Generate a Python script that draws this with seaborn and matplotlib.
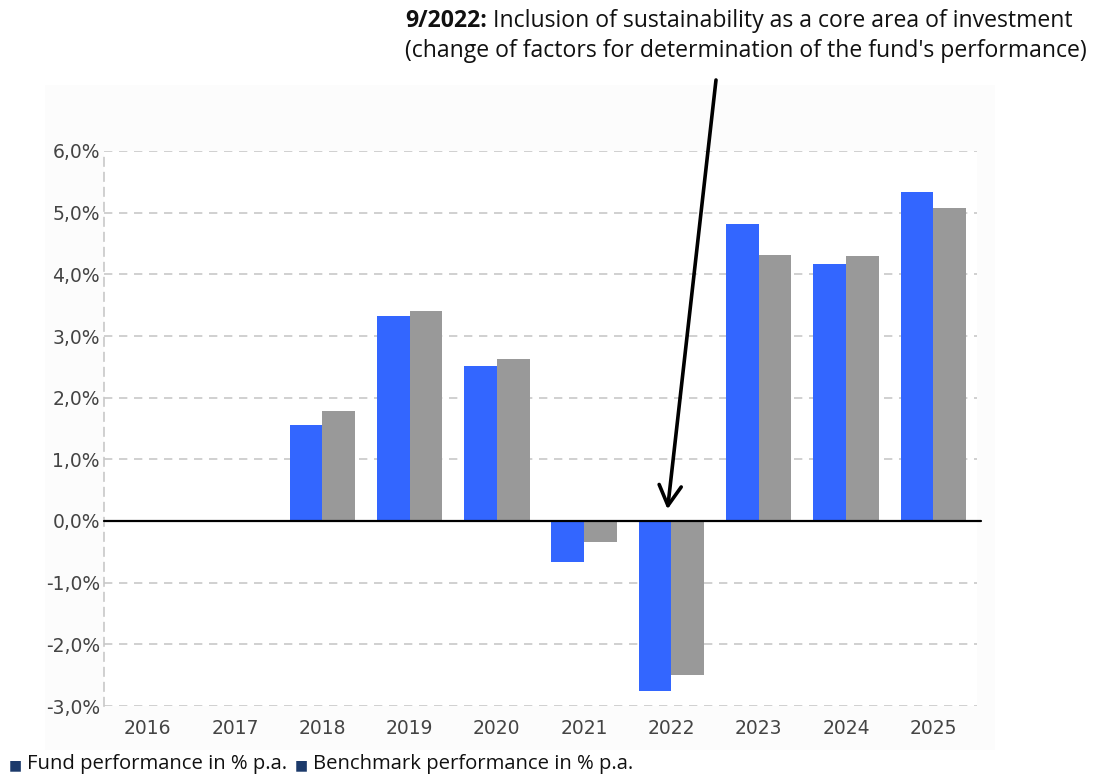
import matplotlib
matplotlib.use("Agg")
import matplotlib.pyplot as plt
from matplotlib.patches import Rectangle
from matplotlib.ticker import FuncFormatter
import seaborn as sns
import pandas as pd
import numpy as np

years = ["2016", "2017", "2018", "2019", "2020", "2021", "2022", "2023", "2024", "2025"]
fund = [np.nan, np.nan, 1.56, 3.32, 2.51, -0.67, -2.75, 4.81, 4.16, 5.33]
benchmark = [np.nan, np.nan, 1.79, 3.41, 2.63, -0.34, -2.49, 4.32, 4.29, 5.07]
series_names = ["Fund performance in % p.a.", "Benchmark performance in % p.a."]
y_ticks = [-3, -2, -1, 0, 1, 2, 3, 4, 5, 6]
annotation_bold = "9/2022:"
annotation_line1 = " Inclusion of sustainability as a core area of investment"
annotation_line2 = "(change of factors for determination of the fund's performance)"

df = pd.DataFrame({
    "year": years * 2,
    "value": fund + benchmark,
    "series": [series_names[0]] * len(years) + [series_names[1]] * len(years),
}).dropna()

sns.set_style("white")
plt.rcParams["font.family"] = ["DejaVu Sans"]

W, H = 1100, 778
fig = plt.figure(figsize=(W / 100, H / 100), dpi=100)

# faint panel background
fig.patches.append(Rectangle((45 / W, 1 - 750 / H), 950 / W, 665 / H,
                             transform=fig.transFigure, facecolor="#fcfcfc",
                             edgecolor="none", zorder=-10))

ax = fig.add_axes([104 / W, 1 - 706 / H, 873 / W, 555 / H])
ax.set_facecolor("white")

sns.barplot(data=df, x="year", y="value", hue="series", order=years,
            hue_order=series_names, palette=["#3366ff", "#999999"],
            width=0.75, linewidth=0, ax=ax, legend=False, errorbar=None,
            saturation=1)

ax.set_xlim(-0.5, len(years) - 0.5)
ax.set_ylim(-3, 6)
ax.set_yticks(y_ticks)
ax.yaxis.set_major_formatter(FuncFormatter(lambda v, p: f"{v:.1f}%".replace(".", ",")))
ax.set_xlabel("")
ax.set_ylabel("")

for s in ["top", "right", "bottom"]:
    ax.spines[s].set_visible(False)
ax.spines["left"].set_color("#c8c8c8")
ax.spines["left"].set_linestyle((0, (5, 4)))
ax.spines["left"].set_linewidth(1.2)

for t in y_ticks:
    if t != 0:
        ax.axhline(t, color="#c8c8c8", lw=1.2, ls=(0, (5, 4)), zorder=0)
ax.axhline(0, xmin=0, xmax=1.005, color="black", lw=1.6, zorder=5, clip_on=False)

ax.tick_params(axis="both", length=0, labelsize=13.5, labelcolor="#444444")
ax.tick_params(axis="y", pad=3)
ax.tick_params(axis="x", pad=9)

txt_font = ["Open Sans", "DejaVu Sans"]

# annotation
tb = fig.text(405 / W, 1 - 21 / H, annotation_bold, fontsize=16.6, fontweight="bold",
              family=txt_font, va="center", ha="left", color="#111111")
fig.canvas.draw()
bb = tb.get_window_extent()
fig.text(bb.x1 / W, 1 - 21 / H, annotation_line1, fontsize=16.6,
         family=txt_font, va="center", ha="left", color="#111111")
fig.text(405 / W, 1 - 51 / H, annotation_line2, fontsize=16.6,
         family=txt_font, va="center", ha="left", color="#111111")

ax.annotate("", xy=(5.955, 0.19), xycoords="data",
            xytext=(716, H - 80), textcoords="figure pixels",
            arrowprops=dict(arrowstyle="->,head_length=0.72,head_width=0.4",
                            lw=2.6, color="black", mutation_scale=20,
                            shrinkA=0, shrinkB=0))

# legend
fig.text(9 / W, 1 - 765 / H, "■", fontsize=10, color="#1c3a6b", va="center", ha="left")
t1 = fig.text(27 / W, 1 - 764 / H, series_names[0], fontsize=14.6,
              family=txt_font, va="center", ha="left", color="#111111")
fig.canvas.draw()
x1 = t1.get_window_extent().x1
fig.text((x1 + 8) / W, 1 - 765 / H, "■", fontsize=10, color="#1c3a6b", va="center", ha="left")
fig.text((x1 + 26) / W, 1 - 764 / H, series_names[1], fontsize=14.6,
         family=txt_font, va="center", ha="left", color="#111111")

fig.savefig("out.png", dpi=100)
